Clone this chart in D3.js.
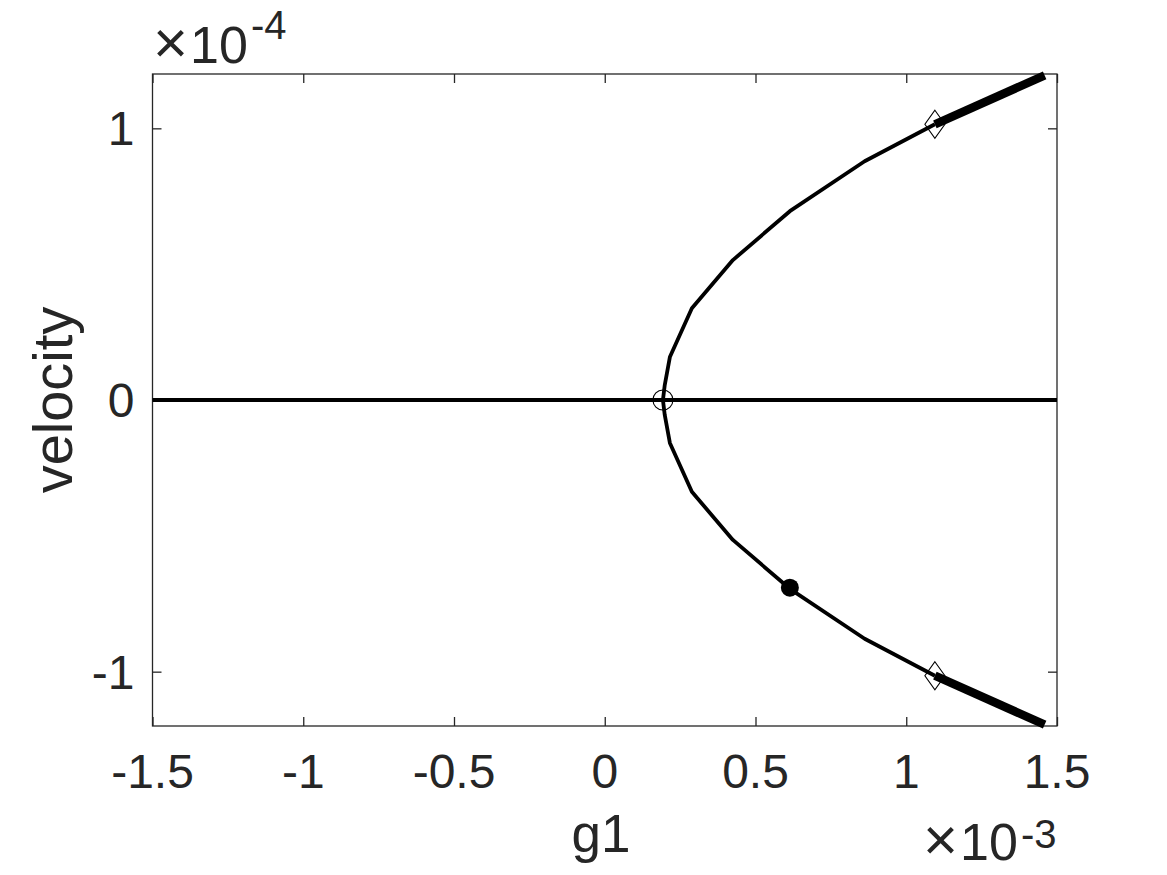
<!DOCTYPE html>
<html>
<head>
<meta charset="utf-8">
<script src="https://cdn.jsdelivr.net/npm/d3@7"></script>
<style>
  body { margin: 0; background: #fff; }
  text { font-family: "Liberation Sans", Arial, Helvetica, sans-serif; fill: #262626; }
</style>
</head>
<body>
<svg id="chart" width="1167" height="875"></svg>
<script>
// Data (g1 in units of 1e-3, velocity in units of 1e-4)
const xTicks = [-1.5, -1, -0.5, 0, 0.5, 1, 1.5];
const yTicks = [-1, 0, 1];
const xTickLabels = ["-1.5", "-1", "-0.5", "0", "0.5", "1", "1.5"];
const yTickLabels = ["-1", "0", "1"];

// trivial branch (velocity = 0)
const trivialG = [-1.5, 1.5];
const trivialV = [0, 0];

// upper nontrivial branch (thin part)
const upperG = [0.193, 0.199, 0.216, 0.289, 0.425, 0.614, 0.862, 1.095];
const upperV = [0, 0.055, 0.158, 0.338, 0.515, 0.695, 0.879, 1.015];
// lower nontrivial branch (thin part)
const lowerG = [0.193, 0.199, 0.216, 0.289, 0.425, 0.614, 0.862, 1.095];
const lowerV = [0, -0.055, -0.158, -0.338, -0.515, -0.695, -0.879, -1.015];

// thick (stable) segments
const upperThickG = [1.095, 1.459];
const upperThickV = [1.015, 1.195];
const lowerThickG = [1.095, 1.459];
const lowerThickV = [-1.015, -1.195];

// special points
const bifurcationPoint = [0.193, 0];      // open circle
const hopfPoints = [[1.095, 1.015], [1.095, -1.015]]; // diamonds
const filledPoint = [0.614, -0.691];     // filled circle

const svg = d3.select("#chart");
const margin = {left: 152.5, right: 1057, top: 74, bottom: 726};

const x = d3.scaleLinear().domain([-1.5, 1.5]).range([margin.left, margin.right]);
const y = d3.scaleLinear().domain([-1.2, 1.2]).range([margin.bottom, margin.top]);

const axisColor = "#262626";
const tickLen = 9;

// box
svg.append("rect")
  .attr("x", margin.left).attr("y", margin.top)
  .attr("width", margin.right - margin.left).attr("height", margin.bottom - margin.top)
  .attr("fill", "none").attr("stroke", axisColor).attr("stroke-width", 1.3);

// axes (inward ticks on all sides)
const xAxisB = d3.axisBottom(x).tickValues(xTicks).tickSize(-tickLen).tickFormat("");
const xAxisT = d3.axisTop(x).tickValues(xTicks).tickSize(-tickLen).tickFormat("");
const yAxisL = d3.axisLeft(y).tickValues(yTicks).tickSize(-tickLen).tickFormat("");
const yAxisR = d3.axisRight(y).tickValues(yTicks).tickSize(-tickLen).tickFormat("");

function styleAxis(g) {
  g.select(".domain").remove();
  g.selectAll(".tick line").attr("stroke", axisColor).attr("stroke-width", 1.3);
}
svg.append("g").attr("transform", `translate(0,${margin.bottom})`).call(xAxisB).call(styleAxis);
svg.append("g").attr("transform", `translate(0,${margin.top})`).call(xAxisT).call(styleAxis);
svg.append("g").attr("transform", `translate(${margin.left},0)`).call(yAxisL).call(styleAxis);
svg.append("g").attr("transform", `translate(${margin.right},0)`).call(yAxisR).call(styleAxis);

// tick labels
svg.append("g").selectAll("text").data(xTicks).join("text")
  .attr("x", d => x(d)).attr("y", margin.bottom + 62)
  .attr("text-anchor", "middle").attr("font-size", 48)
  .text((d, i) => xTickLabels[i]);
svg.append("g").selectAll("text").data(yTicks).join("text")
  .attr("x", margin.left - 18).attr("y", d => y(d) + 17)
  .attr("text-anchor", "end").attr("font-size", 48)
  .text((d, i) => yTickLabels[i]);

// axis labels
svg.append("text").attr("x", 601).attr("y", 852)
  .attr("text-anchor", "middle").attr("font-size", 53).text("g1");
svg.append("text").attr("transform", `translate(72,${(margin.top + margin.bottom) / 2}) rotate(-90)`)
  .attr("text-anchor", "middle").attr("font-size", 56).text("velocity");

// exponent multipliers
function multiplier(xPos, baseY, expDy, expText) {
  const t = svg.append("text").attr("x", xPos).attr("y", baseY).attr("font-size", 52);
  t.append("tspan").attr("font-size", 60).text("×");
  t.append("tspan").attr("dx", 2).text("10");
  t.append("tspan").attr("dy", expDy).attr("dx", 3).attr("font-size", 40).text(expText);
}
multiplier(153, 63, -24, "-4");
multiplier(923, 860, -12, "-3");

// lines
const line = d3.line().x(d => x(d[0])).y(d => y(d[1]));
const zip = (a, b) => a.map((v, i) => [v, b[i]]);

const plot = svg.append("g");
plot.append("path").datum(zip(trivialG, trivialV)).attr("d", line)
  .attr("fill", "none").attr("stroke", "#000").attr("stroke-width", 3.8);
plot.append("path").datum(zip(upperG, upperV)).attr("d", line)
  .attr("fill", "none").attr("stroke", "#000").attr("stroke-width", 3.8).attr("stroke-linejoin", "round");
plot.append("path").datum(zip(lowerG, lowerV)).attr("d", line)
  .attr("fill", "none").attr("stroke", "#000").attr("stroke-width", 3.8).attr("stroke-linejoin", "round");
plot.append("path").datum(zip(upperThickG, upperThickV)).attr("d", line)
  .attr("fill", "none").attr("stroke", "#000").attr("stroke-width", 8.5);
plot.append("path").datum(zip(lowerThickG, lowerThickV)).attr("d", line)
  .attr("fill", "none").attr("stroke", "#000").attr("stroke-width", 8.5);

// markers
plot.append("circle").attr("cx", x(bifurcationPoint[0])).attr("cy", y(bifurcationPoint[1]))
  .attr("r", 10).attr("fill", "none").attr("stroke", "#000").attr("stroke-width", 1.1);
plot.selectAll(".diamond").data(hopfPoints).join("path").attr("class", "diamond")
  .attr("d", d => {
    const cx = x(d[0]), cy = y(d[1]);
    return `M${cx},${cy - 14}L${cx + 10},${cy}L${cx},${cy + 14}L${cx - 10},${cy}Z`;
  })
  .attr("fill", "none").attr("stroke", "#000").attr("stroke-width", 1.1);
plot.append("circle").attr("cx", x(filledPoint[0])).attr("cy", y(filledPoint[1]))
  .attr("r", 9).attr("fill", "#000");
</script>
</body>
</html>
